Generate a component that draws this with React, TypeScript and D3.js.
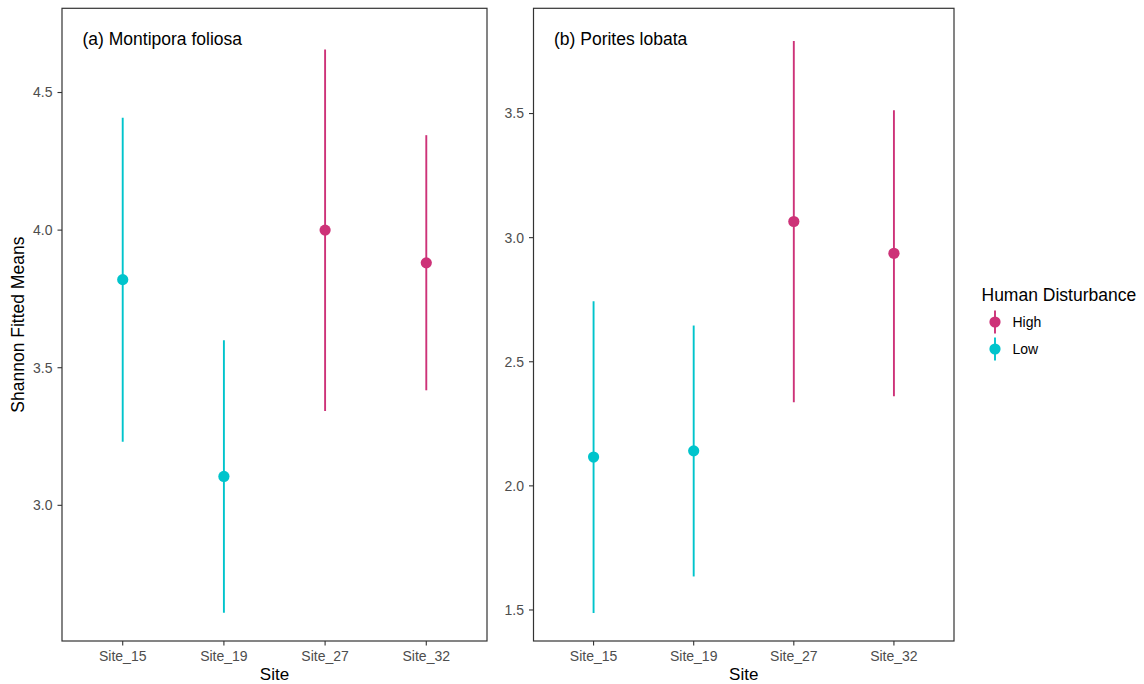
import React from "react";
import * as d3 from "d3";

// Sites on the x axis (shared by both panels)
const sites = ["Site_15", "Site_19", "Site_27", "Site_32"];
// Human disturbance level of each site
const disturbance = ["Low", "Low", "High", "High"];

// (a) Montipora foliosa: fitted Shannon means with lower / upper bounds
const montiporaMean = [3.82, 3.105, 4.0, 3.881];
const montiporaLower = [3.231, 2.61, 3.343, 3.418];
const montiporaUpper = [4.408, 3.6, 4.656, 4.345];
const montiporaTicks = [3.0, 3.5, 4.0, 4.5];
const montiporaDomain = [2.507, 4.806];

// (b) Porites lobata
const poritesMean = [2.116, 2.141, 3.065, 2.937];
const poritesLower = [1.488, 1.635, 2.337, 2.361];
const poritesUpper = [2.744, 2.646, 3.792, 3.513];
const poritesTicks = [1.5, 2.0, 2.5, 3.0, 3.5];
const poritesDomain = [1.375, 3.924];

const levels = ["High", "Low"];
const levelColors = ["#CD3278", "#00C4CC"];

const W = 1144;
const H = 684;
const FONT = "'Liberation Sans', Arial, Helvetica, sans-serif";
const AXIS_GREY = "#4D4D4D";
const LINE_DARK = "#333333";
const TITLE_SIZE = 17.5;
const TICK_SIZE = 14;

const color = d3.scaleOrdinal<string, string>().domain(levels).range(levelColors);

type PanelProps = {
  x0: number;
  x1: number;
  y0: number;
  y1: number;
  title: string;
  mean: number[];
  lower: number[];
  upper: number[];
  ticks: number[];
  domain: number[];
};

function Panel({ x0, x1, y0, y1, title, mean, lower, upper, ticks, domain }: PanelProps) {
  const x = d3.scalePoint<string>().domain(sites).range([x0, x1]).padding(0.6);
  const y = d3.scaleLinear().domain(domain).range([y1, y0]);
  const fmt = d3.format(".1f");
  return (
    <g>
      {/* y axis ticks */}
      {ticks.map((t) => (
        <g key={"yt" + t}>
          <line x1={x0 - 4.5} x2={x0} y1={y(t)} y2={y(t)} stroke={LINE_DARK} strokeWidth={1.1} />
          <text
            x={x0 - 9.5}
            y={y(t)}
            dy="0.35em"
            textAnchor="end"
            fontSize={TICK_SIZE}
            fill={AXIS_GREY}
            fontFamily={FONT}
          >
            {fmt(t)}
          </text>
        </g>
      ))}
      {/* x axis ticks */}
      {sites.map((s) => (
        <g key={"xt" + s}>
          <line x1={x(s)} x2={x(s)} y1={y1} y2={y1 + 4.5} stroke={LINE_DARK} strokeWidth={1.1} />
          <text
            x={x(s)}
            y={y1 + 19.5}
            textAnchor="middle"
            fontSize={TICK_SIZE}
            fill={AXIS_GREY}
            fontFamily={FONT}
          >
            {s}
          </text>
        </g>
      ))}
      {/* point ranges */}
      {sites.map((s, i) => {
        const c = color(disturbance[i]);
        return (
          <g key={"pr" + s}>
            <line
              x1={x(s)}
              x2={x(s)}
              y1={y(lower[i])}
              y2={y(upper[i])}
              stroke={c}
              strokeWidth={1.9}
            />
            <circle cx={x(s)} cy={y(mean[i])} r={5.6} fill={c} />
          </g>
        );
      })}
      {/* panel label */}
      <text x={x0 + 20.5} y={y0 + 36.5} fontSize={TITLE_SIZE} fill="#000" fontFamily={FONT}>
        {title}
      </text>
      {/* border */}
      <rect
        x={x0}
        y={y0}
        width={x1 - x0}
        height={y1 - y0}
        fill="none"
        stroke={LINE_DARK}
        strokeWidth={1.2}
      />
      {/* x axis title */}
      <text
        x={(x0 + x1) / 2}
        y={y1 + 38.5}
        textAnchor="middle"
        fontSize={17}
        fill="#000"
        fontFamily={FONT}
      >
        Site
      </text>
    </g>
  );
}

export default function App() {
  const top = 8.3;
  const bottom = 641;
  return (
    <svg
      width={W}
      height={H}
      style={{ position: "absolute", left: 0, top: 0, display: "block", background: "#fff" }}
    >
      <rect x={0} y={0} width={W} height={H} fill="#fff" />
      <Panel
        x0={62}
        x1={487}
        y0={top}
        y1={bottom}
        title="(a) Montipora foliosa"
        mean={montiporaMean}
        lower={montiporaLower}
        upper={montiporaUpper}
        ticks={montiporaTicks}
        domain={montiporaDomain}
      />
      <Panel
        x0={533.5}
        x1={954}
        y0={top}
        y1={bottom}
        title="(b) Porites lobata"
        mean={poritesMean}
        lower={poritesLower}
        upper={poritesUpper}
        ticks={poritesTicks}
        domain={poritesDomain}
      />
      {/* y axis title */}
      <text
        transform={`translate(23.5, ${(top + bottom) / 2}) rotate(-90)`}
        textAnchor="middle"
        fontSize={TITLE_SIZE}
        fill="#000"
        fontFamily={FONT}
      >
        Shannon Fitted Means
      </text>
      {/* legend */}
      <g>
        <text x={981.5} y={300.5} fontSize={TITLE_SIZE} fill="#000" fontFamily={FONT}>
          Human Disturbance
        </text>
        {levels.map((lv, i) => {
          const cy = 322 + i * 27;
          return (
            <g key={"lg" + lv}>
              <line
                x1={995}
                x2={995}
                y1={cy - 11.5}
                y2={cy + 11.5}
                stroke={color(lv)}
                strokeWidth={1.9}
              />
              <circle cx={995} cy={cy} r={5.6} fill={color(lv)} />
              <text x={1012.5} y={cy} dy="0.35em" fontSize={TICK_SIZE} fill="#000" fontFamily={FONT}>
                {lv}
              </text>
            </g>
          );
        })}
      </g>
    </svg>
  );
}
